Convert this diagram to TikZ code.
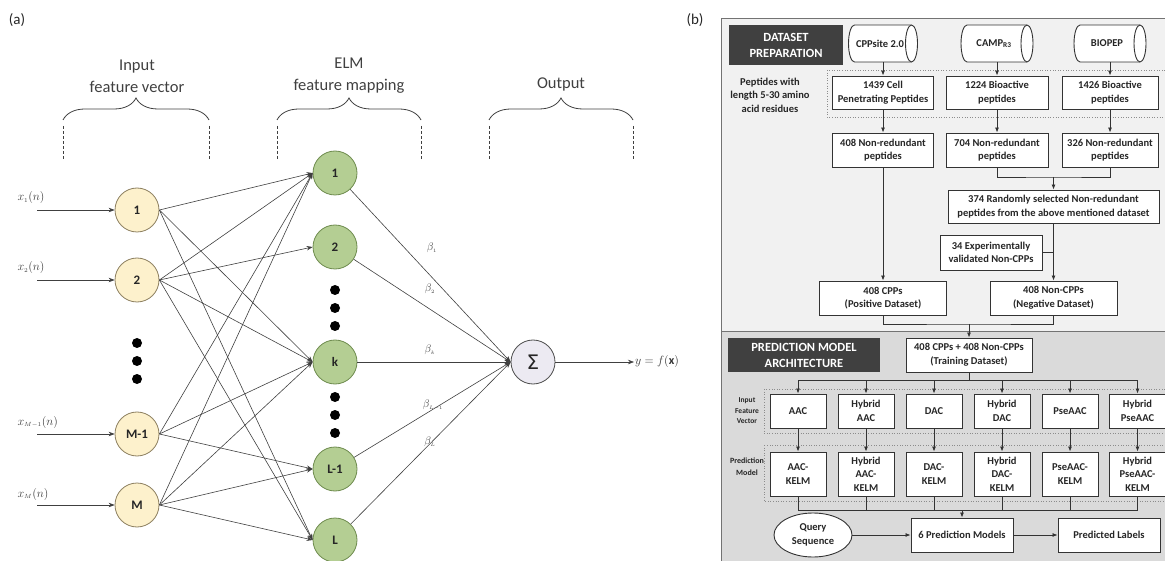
\documentclass[tikz,border=0pt]{standalone}
\usepackage{fontspec}
\setmainfont{Carlito}
\newfontfamily\dejavu{DejaVu Sans}
\usetikzlibrary{shapes.geometric,decorations.pathreplacing,arrows.meta,calc}
\definecolor{inpcol}{HTML}{FDF1CC}
\definecolor{inpbd}{HTML}{8C7F5F}
\definecolor{hidcol}{HTML}{B4CE93}
\definecolor{hidbd}{HTML}{6E8B4E}
\definecolor{sumcol}{HTML}{ECEAF2}
\definecolor{topbg}{HTML}{F1F1F1}
\definecolor{botbg}{HTML}{DADADA}
\definecolor{hdr}{HTML}{404040}
\definecolor{txt}{HTML}{404040}
% horizontal cylinder: name, cx, cy, width, text
\newcommand\mycyl[5]{%
  \filldraw[draw=black!80, fill=white, line width=0.9pt]
    (#2+#4/2-6, #3-18.5) arc[start angle=90, end angle=-90, x radius=6pt, y radius=18.5pt]
    -- (#2-#4/2+6, #3+18.5) arc[start angle=270, end angle=90, x radius=6pt, y radius=18.5pt]
    -- cycle;
  \draw[draw=black!80, line width=0.9pt]
    (#2+#4/2-6, #3-18.5) arc[start angle=90, end angle=270, x radius=6pt, y radius=18.5pt];
  \node[cyl, minimum width=#4pt, minimum height=37pt] (#1) at (#2-3,#3) {#5};
}
\begin{document}
\begin{tikzpicture}[x=1pt,y=-1pt,
  neur/.style={circle, minimum size=44pt, inner sep=0pt, line width=0.8pt, font=\fontsize{13}{13}\selectfont\bfseries, text=black!85},
  inp/.style={neur, draw=inpbd, fill=inpcol},
  hid/.style={neur, draw=hidbd, fill=hidcol},
  conn/.style={draw=black!75, line width=0.6pt, -{Stealth[length=6pt,width=4.5pt]}},
  brc/.style={decorate, decoration={brace, amplitude=22pt}, draw=txt, line width=0.8pt},
  dsh/.style={draw=txt, densely dashed, line width=0.8pt},
  head/.style={font=\fontsize{16.5}{22}\selectfont, text=txt, align=center},
  xlab/.style={anchor=west, font=\fontsize{12}{12}\selectfont, text=txt},
  blab/.style={text=txt, font=\fontsize{11}{11}\selectfont},
  box/.style={draw=black!80, fill=white, line width=0.9pt, align=center, inner sep=0pt, font=\fontsize{10.5}{13.5}\selectfont\bfseries, text=black!85},
  hbox/.style={fill=hdr, text=white, align=center, inner sep=0pt, font=\fontsize{12.5}{16}\selectfont\bfseries},
  cyl/.style={draw=none, inner sep=0pt, font=\fontsize{10.5}{13}\selectfont\bfseries, text=black!85},
  side/.style={align=center, font=\fontsize{10.5}{13.5}\selectfont\bfseries, text=black!85},
  small/.style={align=center, font=\fontsize{7.5}{10.5}\selectfont\bfseries, text=black!85},
  arr/.style={draw=black!80, line width=0.8pt, -{Latex[length=5pt,width=4pt]}},
  ln/.style={draw=black!80, line width=0.8pt},
  dotbox/.style={draw=black!45, dotted, line width=0.6pt}
]
\useasboundingbox (0,0) rectangle (1165,561);

%% ---------------- panel (a) ----------------
\node[font=\fontsize{15}{15}\selectfont, text=black!85] (la) at (17,20) {(a)};

\node[head] (t1) at (137,76) {Input\\feature vector};
\node[head] (t2) at (349,76) {ELM\\feature mapping};
\node[head] (t3) at (561,84) {Output};
\draw[brc] (63,120) -- (209,120);
\draw[brc] (277,120) -- (421,120);
\draw[brc] (489,120) -- (633,120);
\draw[dsh] (63,126) -- (63,160);
\draw[dsh] (209,126) -- (209,160);
\draw[dsh] (277,126) -- (277,160);
\draw[dsh] (421,126) -- (421,160);
\draw[dsh] (489,126) -- (489,160);
\draw[dsh] (633,126) -- (633,160);

\node[inp] (i1) at (137,210) {1};
\node[inp] (i2) at (137,280) {2};
\node[inp] (i3) at (137,434) {M-1};
\node[inp] (i4) at (137,505) {M};

\node[hid] (h1) at (335,173) {1};
\node[hid] (h2) at (335,247) {2};
\node[hid] (hk) at (335,362) {k};
\node[hid] (h4) at (335,469) {L-1};
\node[hid] (h5) at (335,540) {L};

\node[circle, draw=black!70, fill=sumcol, line width=0.8pt, minimum size=44pt, inner sep=0pt, font=\dejavu\fontsize{20}{20}\selectfont, text=black!85] (sum) at (533,362) {Σ};

\foreach \y in {343,361,379} \fill (137,\y) circle (5pt);
\foreach \y in {290,308,326,397,415,433} \fill (335,\y) circle (5pt);

% input arrows and labels
\coordinate (s1) at (37,210);
\coordinate (s2) at (37,280);
\coordinate (s3) at (37,434);
\coordinate (s4) at (37,505);
\draw[conn] (s1) -- (i1.west);
\draw[conn] (s2) -- (i2.west);
\draw[conn] (s3) -- (i3.west);
\draw[conn] (s4) -- (i4.west);
\node[xlab] (x1) at (14,198) {$x_{\scriptscriptstyle 1}(n)$};
\node[xlab] (x2) at (14,268) {$x_{\scriptscriptstyle 2}(n)$};
\node[xlab] (x3) at (14,422) {$x_{\scriptscriptstyle M-1}(n)$};
\node[xlab] (x4) at (14,494) {$x_{\scriptscriptstyle M}(n)$};

% input -> hidden
\foreach \a/\b in {i1/h1,i1/hk,i1/h5,i2/h1,i2/h2,i2/hk,i2/h5,i3/h1,i3/hk,i3/h4,i4/h1,i4/hk,i4/h4,i4/h5}
  \draw[conn] (\a.east) -- (\b.west);

% hidden -> sum
\foreach \b in {h1,h2,hk,h4,h5}
  \draw[conn] (\b) -- (sum.west);

\node[blab] (b1) at (432,248) {$\beta_{\scriptscriptstyle 1}$};
\node[blab] (b2) at (430,289) {$\beta_{\scriptscriptstyle 2}$};
\node[blab] (b3) at (430,350) {$\beta_{\scriptscriptstyle k}$};
\node[blab] (b4) at (433,405) {$\beta_{\scriptscriptstyle L-1}$};
\node[blab] (b5) at (430,442) {$\beta_{\scriptscriptstyle L}$};

\node[anchor=west, text=black!80, font=\fontsize{12}{12}\selectfont, inner sep=1pt] (yo) at (634,362) {$y=f(\mathbf{x})$};
\draw[conn] (sum.east) -- (yo.west);

%% ---------------- panel (b) ----------------
\node[font=\fontsize{15}{15}\selectfont, text=black!85] (lb) at (695,20) {(b)};

\fill[topbg] (721,18) rectangle (1170,331);
\fill[botbg] (721,331) rectangle (1170,566);
\draw[black!55, line width=0.8pt] (721,566) -- (721,18) -- (1170,18);
\draw[black!55, line width=0.8pt] (721,331) -- (1170,331);

\draw[dotbox] (827,70) rectangle (1170,117);
\draw[dotbox] (764,389) rectangle (1170,433);
\draw[dotbox] (764,445) rectangle (1170,501);

\node[hbox, minimum width=114pt, minimum height=40pt] (hd1) at (786,45) {DATASET\\PREPARATION};
\mycyl{c1}{883}{43.5}{69}{CPPsite 2.0}
\mycyl{c2}{997}{43.5}{72}{CAMP\textsubscript{R3}}
\mycyl{c3}{1110}{43.5}{72}{BIOPEP}

\node[side] (pl) at (770,95) {Peptides with\\length 5-30 amino\\acid residues};

\node[box, minimum width=101pt, minimum height=33pt] (r1a) at (883,92.5) {1439 Cell\\Penetrating Peptides};
\node[box, minimum width=102pt, minimum height=33pt] (r1b) at (997,92.5) {1224 Bioactive\\peptides};
\node[box, minimum width=96pt, minimum height=33pt] (r1c) at (1110,92.5) {1426 Bioactive\\peptides};
\node[box, minimum width=101pt, minimum height=34pt] (r2a) at (883,150) {408 Non-redundant\\peptides};
\node[box, minimum width=102pt, minimum height=34pt] (r2b) at (997,150) {704 Non-redundant\\peptides};
\node[box, minimum width=96pt, minimum height=34pt] (r2c) at (1110,150) {326 Non-redundant\\peptides};

\node[box, minimum width=211pt, minimum height=33pt] (rnd) at (1053.5,206.5) {374 Randomly selected Non-redundant\\peptides from the above mentioned dataset};
\node[box, minimum width=102pt, minimum height=35pt] (exp) at (991,252.5) {34 Experimentally\\validated Non-CPPs};
\node[box, minimum width=127pt, minimum height=34pt] (pos) at (883,298) {408 CPPs\\(Positive Dataset)};
\node[box, minimum width=127pt, minimum height=34pt] (neg) at (1053.5,298) {408 Non-CPPs\\(Negative Dataset)};

\draw[arr] (c1.south -| r1a.north) -- (r1a.north);
\draw[arr] (c2.south -| r1b.north) -- (r1b.north);
\draw[arr] (c3.south -| r1c.north) -- (r1c.north);
\draw[arr] (r1a.south) -- (r2a.north);
\draw[arr] (r1b.south) -- (r2b.north);
\draw[arr] (r1c.south) -- (r2c.north);
\coordinate (jm1) at (1053.5,177);
\draw[ln] (r2b.south) |- (jm1) -| (r2c.south);
\draw[arr] (jm1) -- (rnd.north);
\draw[arr] (rnd.south) -- (neg.north);
\draw[ln] (exp.east) -- (exp.east -| rnd.south);
\draw[arr] (r2a.south) -- (pos.north);
\coordinate (jm2) at (969,324);
\draw[ln] (pos.south) |- (jm2) -| (neg.south);

\node[hbox, minimum width=152pt, minimum height=34pt] (hd2) at (804,355) {PREDICTION MODEL\\ARCHITECTURE};
\node[box, minimum width=126pt, minimum height=34pt] (trn) at (969,355) {408 CPPs + 408 Non-CPPs\\(Training Dataset)};
\draw[arr] (jm2) -- (trn.north);

\node[small] (ifv) at (747,411) {Input\\Feature\\Vector};
\node[small, font=\fontsize{8}{12}\selectfont\bfseries] (pmd) at (747,467) {Prediction\\Model};

\node[box, minimum width=56pt, minimum height=34pt] (f1) at (798,411) {AAC};
\node[box, minimum width=56pt, minimum height=34pt] (f2) at (866,411) {Hybrid\\AAC};
\node[box, minimum width=56pt, minimum height=34pt] (f3) at (934,411) {DAC};
\node[box, minimum width=56pt, minimum height=34pt] (f4) at (1002,411) {Hybrid\\DAC};
\node[box, minimum width=56pt, minimum height=34pt] (f5) at (1070,411) {PseAAC};
\node[box, minimum width=56pt, minimum height=34pt] (f6) at (1137.5,411) {Hybrid\\PseAAC};

\node[box, minimum width=56pt, minimum height=44pt] (m1) at (798,474) {AAC-\\KELM};
\node[box, minimum width=56pt, minimum height=44pt] (m2) at (866,474) {Hybrid\\AAC-\\KELM};
\node[box, minimum width=56pt, minimum height=44pt] (m3) at (934,474) {DAC-\\KELM};
\node[box, minimum width=56pt, minimum height=44pt] (m4) at (1002,474) {Hybrid\\DAC-\\KELM};
\node[box, minimum width=56pt, minimum height=44pt] (m5) at (1070,474) {PseAAC-\\KELM};
\node[box, minimum width=56pt, minimum height=44pt] (m6) at (1137.5,474) {Hybrid\\PseAAC-\\KELM};

\coordinate (jm3) at (969,380);
\draw[ln] (trn.south) -- (jm3);
\draw[ln] (f1.north |- jm3) -- (f6.north |- jm3);
\foreach \i in {1,...,6} {
  \draw[arr] (f\i.north |- jm3) -- (f\i.north);
  \draw[arr] (f\i.south) -- (m\i.north);
}
\coordinate (jm4) at (962,510);
\foreach \i in {1,...,6} \draw[ln] (m\i.south) -- (m\i.south |- jm4);
\draw[ln] (m1.south |- jm4) -- (m6.south |- jm4);

\node[box, minimum width=102pt, minimum height=34pt] (six) at (962,535) {6 Prediction Models};
\node[box, minimum width=102pt, minimum height=34pt] (prd) at (1109,535) {Predicted Labels};
\node[box, ellipse, minimum width=78pt, minimum height=44pt] (qry) at (813,535) {Query\\Sequence};
\draw[arr] (jm4) -- (six.north);
\draw[arr] (qry) -- (six);
\draw[arr] (six) -- (prd);
\end{tikzpicture}
\end{document}
